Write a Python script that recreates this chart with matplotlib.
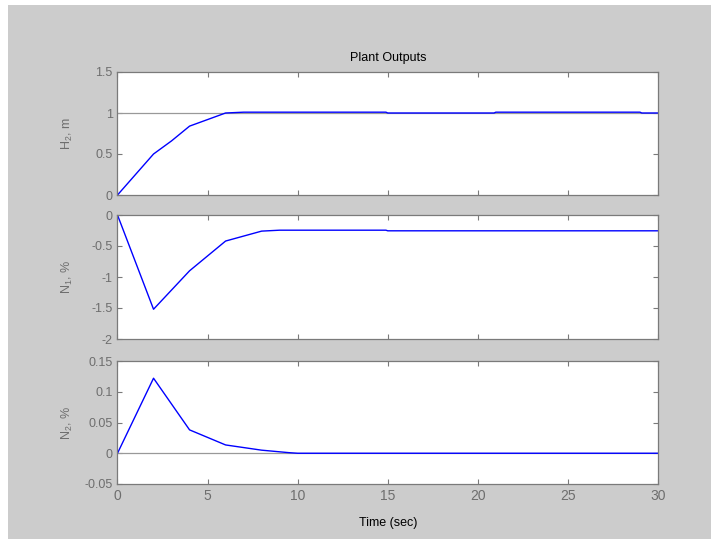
import matplotlib
matplotlib.use('Agg')
import matplotlib.pyplot as plt
import matplotlib.patches as mpatches
from matplotlib.ticker import FormatStrFormatter

plt.rcParams.update({
    'font.family': 'Liberation Sans',
    'font.size': 8,
    'axes.unicode_minus': False,
    'mathtext.fontset': 'custom',
    'mathtext.rm': 'Liberation Sans',
    'mathtext.it': 'Liberation Sans',
})

# ── Datos ────────────────────────────────────────────────────────────────────
t_h2 = [0, 1, 2, 3, 4, 5, 6, 7, 14.9, 15.0, 20.9, 21.0, 29.0, 29.1, 30]
h2 = [0, 0.25, 0.5, 0.66, 0.84, 0.92, 1.0, 1.01, 1.01, 1.0, 1.0, 1.01, 1.01, 1.0, 1.0]

t_n1 = [0, 2, 4, 6, 8, 9, 14.9, 15.0, 30]
n1 = [0, -1.52, -0.90, -0.42, -0.26, -0.245, -0.245, -0.255, -0.255]

t_n2 = [0, 2, 4, 6, 8, 9.5, 10, 30]
n2 = [0, 0.122, 0.038, 0.0135, 0.005, 0.001, 0, 0]

h2_ref = 1.0
n2_ref = 0.0

GRAY_BG = '#cccccc'
TICK_GRAY = '#6e6e6e'

fig = plt.figure(figsize=(7.11, 5.39), dpi=100)
# fondo gris con margen blanco arriba/izquierda
fig.patches.append(mpatches.Rectangle((8 / 711, 0), 1, 1 - 5 / 539,
                                      transform=fig.transFigure,
                                      facecolor=GRAY_BG, edgecolor='none',
                                      zorder=-10))

left, width = 117.5 / 711, (658 - 117.5) / 711
ax1 = fig.add_axes([left, 1 - 195 / 539, width, 123 / 539])
ax2 = fig.add_axes([left, 1 - 339 / 539, width, 124 / 539])
ax3 = fig.add_axes([left, 1 - 484 / 539, width, 123 / 539])


def style(ax):
    ax.set_facecolor('white')
    for s in ax.spines.values():
        s.set_color('#7a7a7a')
        s.set_linewidth(0.9)
    ax.tick_params(direction='in', length=3.6, width=0.8, colors='#7a7a7a',
                   labelcolor=TICK_GRAY, top=True, right=True, labelsize=9)
    ax.set_xlim(0, 30)
    ax.set_xticks([0, 5, 10, 15, 20, 25, 30])
    ax.yaxis.set_major_formatter(FormatStrFormatter('%g'))


for ax in (ax1, ax2, ax3):
    style(ax)

ax1.axhline(h2_ref, color='#999999', linewidth=0.9)
ax1.plot(t_h2, h2, color='#0000ff', linewidth=1.0)
ax1.set_ylim(0, 1.5)
ax1.set_yticks([0, 0.5, 1, 1.5])
ax1.set_xticklabels([])
ax1.set_ylabel(r'H$_2$, m', color=TICK_GRAY, fontsize=9)
ax1.set_title('Plant Outputs', fontsize=9, pad=8)

ax2.plot(t_n1, n1, color='#0000ff', linewidth=1.0)
ax2.set_ylim(-2, 0)
ax2.set_yticks([-2, -1.5, -1, -0.5, 0])
ax2.set_xticklabels([])
ax2.set_ylabel(r'N$_1$, %', color=TICK_GRAY, fontsize=9)

ax3.axhline(n2_ref, color='#999999', linewidth=0.9)
ax3.plot(t_n2, n2, color='#0000ff', linewidth=1.0)
ax3.set_ylim(-0.05, 0.15)
ax3.set_yticks([-0.05, 0, 0.05, 0.1, 0.15])
ax3.set_ylabel(r'N$_2$, %', color=TICK_GRAY, fontsize=9)
ax3.set_xlabel('Time (sec)', fontsize=9, labelpad=10)
ax3.tick_params(axis='x', labelsize=10)

for ax in (ax1, ax2, ax3):
    ax.yaxis.set_label_coords(-0.078, 0.5)

fig.savefig('out.png', dpi=100)
